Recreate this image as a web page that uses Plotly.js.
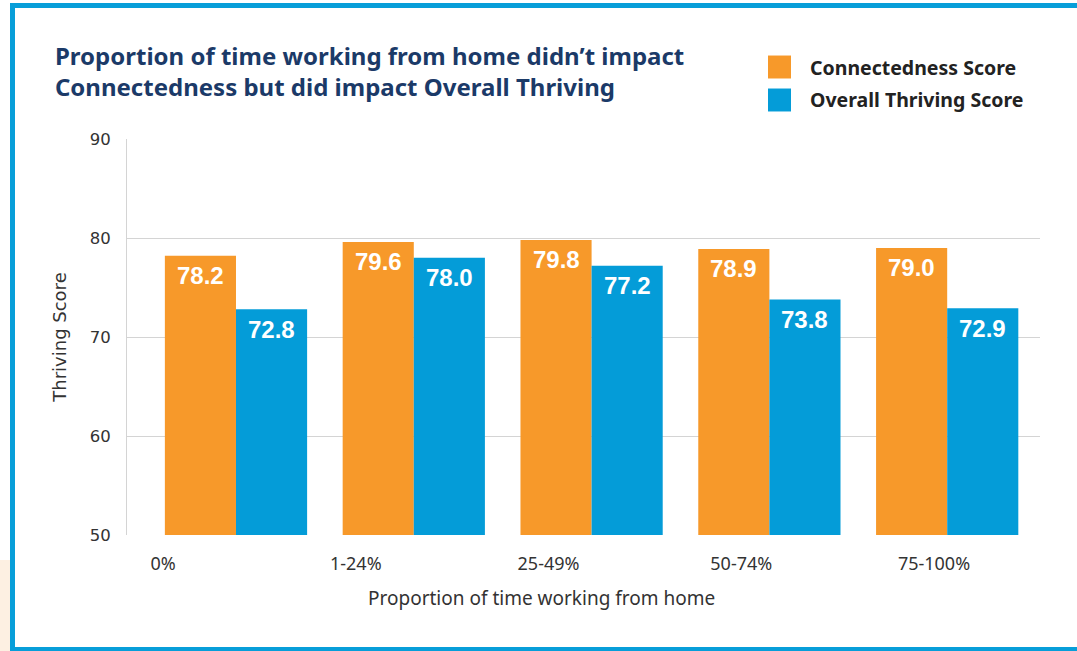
<!DOCTYPE html>
<html>
<head>
<meta charset="utf-8">
<script src="https://cdn.plot.ly/plotly-3.0.1.min.js"></script>
<style>
  html, body { margin: 0; padding: 0; background: #ffffff; }
  #wrap { position: relative; width: 1077px; height: 651px; overflow: hidden; }
  #chart { position: absolute; left: 0; top: 0; width: 1077px; height: 651px; }
  .frame { position: absolute; background: #079ed9; pointer-events: none; z-index: 5; }
  .peach { position: absolute; background: #fdf0e2; pointer-events: none; z-index: 4; }
</style>
</head>
<body>
<div id="wrap">
  <div id="chart"></div>
  <div class="peach" style="left:0;top:560px;width:10px;height:91px;"></div>
  <div class="frame" style="left:10px;top:3px;width:1067px;height:5px;"></div>
  <div class="frame" style="left:10px;top:3px;width:5px;height:648px;"></div>
  <div class="frame" style="left:10px;top:647px;width:1067px;height:4px;"></div>
</div>
<script>
// ---- data ----
const categories = ['0%', '1-24%', '25-49%', '50-74%', '75-100%'];
const connectedness = [78.2, 79.6, 79.8, 78.9, 79.0];
const thriving = [72.8, 78.0, 77.2, 73.8, 72.9];
const seriesNames = ['Connectedness Score', 'Overall Thriving Score'];
const titleText = 'Proportion of time working from home didn’t impact<br>Connectedness but did impact Overall Thriving';
const xTitle = 'Proportion of time working from home';
const yTitle = 'Thriving Score';

// ---- style ----
const colors = ['#F7992A', '#049CD8'];
const bargap = 0.2;
const xIdx = categories.map((_, i) => i);
const series = [connectedness, thriving];

const traces = series.map((vals, s) => ({
  type: 'bar',
  name: seriesNames[s],
  x: xIdx,
  y: vals,
  marker: { color: colors[s] },
  showlegend: false,
  hoverinfo: 'skip'
}));
// empty helper trace so the category-label axis (x2) is drawn
traces.push({ type: 'scatter', mode: 'markers', x: [], y: [], xaxis: 'x2', yaxis: 'y', showlegend: false, hoverinfo: 'skip' });

// value labels inside bars, just below the top
const half = (1 - bargap) / 4;
const annotations = [];
series.forEach((vals, s) => {
  vals.forEach((v, i) => {
    annotations.push({
      x: i + (s === 0 ? -half : half), y: v, xref: 'x', yref: 'y',
      text: '<b>' + v.toFixed(1) + '</b>', showarrow: false,
      yanchor: 'middle', yshift: -20,
      font: { family: 'Liberation Sans, Arial, sans-serif', size: 24, color: '#ffffff' }
    });
  });
});

// x axis title
annotations.push({
  x: 0.4545, y: -0.159, xref: 'paper', yref: 'paper', showarrow: false,
  text: xTitle, xanchor: 'center', yanchor: 'middle',
  font: { family: 'Noto Sans, sans-serif', size: 19, color: '#333333' }
});

// legend (manual)
const legendY = [1.1818, 1.0985];
const shapes = [];
seriesNames.forEach((n, s) => {
  shapes.push({
    type: 'rect', xref: 'paper', yref: 'paper',
    x0: 0.7021, x1: 0.7273, y0: legendY[s] - 0.029, y1: legendY[s] + 0.029,
    fillcolor: colors[s], line: { width: 0 }
  });
  annotations.push({
    x: 0.7459, y: legendY[s], xref: 'paper', yref: 'paper', showarrow: false,
    text: n, xanchor: 'left', yanchor: 'middle',
    font: { family: 'Noto Sans, sans-serif', size: 19.5, weight: 700, color: '#222222' }
  });
});

const layout = {
  width: 1077, height: 651,
  margin: { l: 127, r: 37, t: 139, b: 116 },
  paper_bgcolor: '#ffffff', plot_bgcolor: '#ffffff',
  barmode: 'group', bargap: bargap, bargroupgap: 0,
  hovermode: false,
  title: {
    text: titleText, xref: 'container', yref: 'container',
    x: 0.051, xanchor: 'left', y: 0.9, yanchor: 'top',
    font: { family: 'Noto Sans, sans-serif', size: 24, weight: 700, color: '#1B3A68' }
  },
  xaxis: {
    range: [-0.613, 4.522], showticklabels: false, showgrid: false,
    zeroline: false, showline: false, ticks: '', fixedrange: true
  },
  xaxis2: {
    overlaying: 'x', anchor: 'y', side: 'bottom',
    range: [-0.187, 4.55], tickmode: 'array', tickvals: xIdx, ticktext: categories,
    showgrid: false, zeroline: false, showline: false,
    ticks: 'outside', ticklen: 12, tickcolor: 'rgba(0,0,0,0)',
    tickfont: { family: 'Noto Sans, sans-serif', size: 18, color: '#333333' },
    fixedrange: true
  },
  yaxis: {
    range: [50, 90], tickvals: [50, 60, 70, 80, 90],
    showgrid: true, gridcolor: '#d4d4d4', gridwidth: 1,
    zeroline: false, showline: true, linecolor: '#d4d4d4', linewidth: 1,
    ticks: 'outside', ticklen: 12, tickcolor: 'rgba(0,0,0,0)',
    tickfont: { family: 'DejaVu Sans, sans-serif', size: 16.5, color: '#333333' },
    title: { text: yTitle, standoff: 18, font: { family: 'DejaVu Sans, sans-serif', size: 18, color: '#333333' } },
    fixedrange: true
  },
  shapes: shapes,
  annotations: annotations
};

Plotly.newPlot('chart', traces, layout, { displayModeBar: false, staticPlot: true });
</script>
</body>
</html>
